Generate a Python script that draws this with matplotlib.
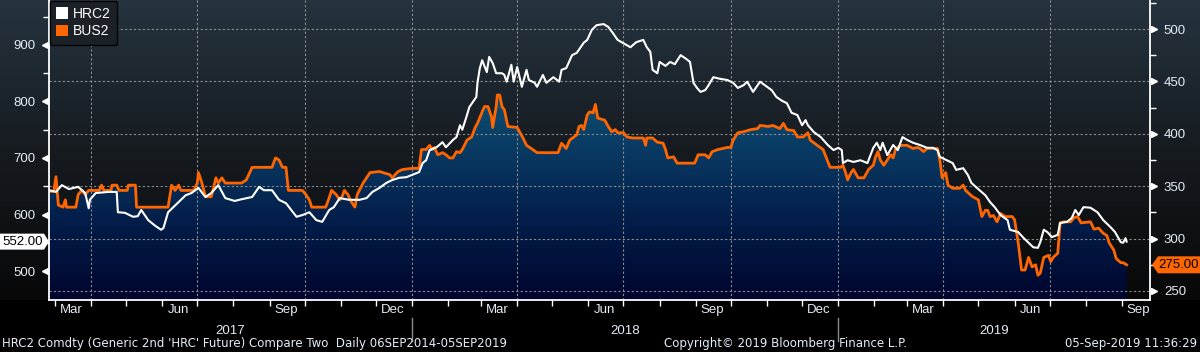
import numpy as np
import pandas as pd
import matplotlib
matplotlib.use("Agg")
import matplotlib.pyplot as plt
import matplotlib.dates as mdates
from matplotlib.colors import LinearSegmentedColormap
from matplotlib.patches import Patch, Polygon
from matplotlib.transforms import blended_transform_factory, ScaledTranslation

W, H = 1200, 352
plt.rcParams.update({"font.family": ["Liberation Sans", "DejaVu Sans"], "font.size": 9.5})
C_TXT, C_GRID, C_ORG = "#e4ecf6", "#8c8c8c", "#ff6600"

# HRC2 (left scale)
hrc = [("2017-02-24", 643), ("2017-03-02", 640), ("2017-03-07", 652), ("2017-03-13", 645), ("2017-03-21", 649),
       ("2017-03-27", 638), ("2017-03-30", 611), ("2017-03-31", 626), ("2017-04-05", 638), ("2017-04-16", 640),
       ("2017-04-23", 640), ("2017-04-24", 604), ("2017-04-30", 603), ("2017-05-07", 596), ("2017-05-11", 597),
       ("2017-05-14", 608), ("2017-05-20", 590), ("2017-05-26", 580), ("2017-05-31", 573), ("2017-06-02", 576),
       ("2017-06-06", 604), ("2017-06-15", 622), ("2017-06-21", 634), ("2017-06-26", 638), ("2017-07-02", 647),
       ("2017-07-08", 631), ("2017-07-13", 638), ("2017-07-19", 652), ("2017-07-25", 629), ("2017-08-02", 624),
       ("2017-08-08", 627), ("2017-08-17", 631), ("2017-08-23", 649), ("2017-08-27", 643), ("2017-09-03", 643),
       ("2017-09-09", 626), ("2017-09-15", 620), ("2017-09-24", 596), ("2017-09-29", 599), ("2017-10-05", 604),
       ("2017-10-11", 590), ("2017-10-16", 587), ("2017-10-22", 608), ("2017-10-26", 613), ("2017-10-31", 629),
       ("2017-11-08", 626), ("2017-11-17", 626), ("2017-11-23", 629), ("2017-11-28", 640), ("2017-12-04", 647),
       ("2017-12-10", 656), ("2017-12-15", 661), ("2017-12-21", 665), ("2017-12-27", 666), ("2018-01-01", 670),
       ("2018-01-07", 675), ("2018-01-10", 691), ("2018-01-13", 696), ("2018-01-16", 714), ("2018-01-22", 719),
       ("2018-01-27", 728), ("2018-01-30", 719), ("2018-02-05", 732), ("2018-02-08", 737), ("2018-02-11", 758),
       ("2018-02-13", 750), ("2018-02-17", 776), ("2018-02-19", 790), ("2018-02-22", 799), ("2018-02-25", 808),
       ("2018-02-26", 833), ("2018-02-28", 859), ("2018-03-02", 873), ("2018-03-06", 852), ("2018-03-08", 879),
       ("2018-03-11", 868), ("2018-03-14", 850), ("2018-03-19", 850), ("2018-03-21", 847), ("2018-03-23", 835),
       ("2018-03-27", 865), ("2018-03-29", 835), ("2018-04-01", 861), ("2018-04-05", 826), ("2018-04-09", 856),
       ("2018-04-11", 838), ("2018-04-16", 833), ("2018-04-18", 826), ("2018-04-23", 847), ("2018-04-26", 833),
       ("2018-05-02", 843), ("2018-05-07", 835), ("2018-05-09", 856), ("2018-05-13", 859), ("2018-05-18", 882),
       ("2018-05-22", 886), ("2018-05-25", 895), ("2018-05-28", 904), ("2018-05-31", 909), ("2018-06-04", 927),
       ("2018-06-08", 935), ("2018-06-14", 937), ("2018-06-18", 932), ("2018-06-22", 921), ("2018-06-26", 909),
       ("2018-07-02", 902), ("2018-07-07", 896), ("2018-07-12", 905), ("2018-07-18", 909), ("2018-07-21", 896),
       ("2018-07-24", 888), ("2018-07-26", 856), ("2018-07-30", 850), ("2018-08-01", 870), ("2018-08-06", 863),
       ("2018-08-10", 870), ("2018-08-14", 866), ("2018-08-19", 882), ("2018-08-24", 875), ("2018-08-27", 870),
       ("2018-08-30", 833), ("2018-09-02", 824), ("2018-09-05", 817), ("2018-09-09", 820), ("2018-09-12", 829),
       ("2018-09-16", 843), ("2018-09-22", 840), ("2018-09-28", 838), ("2018-10-03", 833), ("2018-10-07", 824),
       ("2018-10-12", 829), ("2018-10-15", 835), ("2018-10-20", 817), ("2018-10-26", 835), ("2018-11-01", 826),
       ("2018-11-05", 820), ("2018-11-09", 808), ("2018-11-14", 801), ("2018-11-18", 797), ("2018-11-22", 780),
       ("2018-11-27", 776), ("2018-12-01", 758), ("2018-12-04", 767), ("2018-12-06", 758), ("2018-12-11", 746),
       ("2018-12-17", 737), ("2018-12-23", 723), ("2018-12-28", 714), ("2019-01-01", 718), ("2019-01-04", 714),
       ("2019-01-05", 691), ("2019-01-09", 696), ("2019-01-14", 693), ("2019-01-20", 696), ("2019-01-26", 691),
       ("2019-01-31", 718), ("2019-02-03", 727), ("2019-02-06", 714), ("2019-02-08", 727), ("2019-02-12", 705),
       ("2019-02-17", 723), ("2019-02-21", 714), ("2019-02-25", 737), ("2019-03-01", 732), ("2019-03-06", 727),
       ("2019-03-12", 723), ("2019-03-18", 718), ("2019-03-23", 718), ("2019-03-27", 714), ("2019-03-29", 702),
       ("2019-04-04", 696), ("2019-04-09", 691), ("2019-04-12", 679), ("2019-04-18", 682), ("2019-04-22", 670),
       ("2019-04-25", 656), ("2019-05-02", 643), ("2019-05-07", 634), ("2019-05-11", 622), ("2019-05-15", 613),
       ("2019-05-20", 599), ("2019-05-26", 590), ("2019-05-28", 573), ("2019-06-04", 569), ("2019-06-09", 558),
       ("2019-06-13", 550), ("2019-06-17", 542), ("2019-06-21", 541), ("2019-06-23", 551), ("2019-06-26", 573),
       ("2019-06-29", 569), ("2019-07-03", 560), ("2019-07-08", 564), ("2019-07-10", 585), ("2019-07-16", 587),
       ("2019-07-20", 594), ("2019-07-23", 608), ("2019-07-26", 599), ("2019-07-30", 613), ("2019-08-05", 612),
       ("2019-08-11", 604), ("2019-08-16", 590), ("2019-08-22", 578), ("2019-08-26", 569), ("2019-08-31", 551),
       ("2019-09-02", 550), ("2019-09-04", 558), ("2019-09-05", 552)]

# BUS2 (right scale)
bus = [("2017-02-24", 345), ("2017-02-28", 345), ("2017-03-02", 359), ("2017-03-03", 345), ("2017-03-04", 332),
       ("2017-03-08", 330), ("2017-03-10", 337), ("2017-03-11", 330), ("2017-03-19", 330), ("2017-03-21", 342),
       ("2017-03-24", 346), ("2017-03-27", 342), ("2017-03-30", 346), ("2017-04-08", 346), ("2017-04-10", 351),
       ("2017-04-12", 346), ("2017-04-18", 346), ("2017-04-19", 351), ("2017-04-23", 351), ("2017-04-25", 346),
       ("2017-05-02", 346), ("2017-05-03", 351), ("2017-05-09", 351), ("2017-05-10", 330), ("2017-06-06", 330),
       ("2017-06-09", 351), ("2017-06-12", 346), ("2017-06-15", 351), ("2017-06-17", 346), ("2017-06-28", 346),
       ("2017-07-01", 353), ("2017-07-02", 363), ("2017-07-05", 353), ("2017-07-08", 340), ("2017-07-13", 340),
       ("2017-07-17", 358), ("2017-07-19", 353), ("2017-07-22", 358), ("2017-07-25", 353), ("2017-08-08", 353),
       ("2017-08-12", 356), ("2017-08-17", 368), ("2017-09-03", 368), ("2017-09-06", 377), ("2017-09-09", 375),
       ("2017-09-12", 368), ("2017-09-15", 368), ("2017-09-17", 346), ("2017-09-29", 346), ("2017-10-02", 342),
       ("2017-10-05", 337), ("2017-10-07", 330), ("2017-10-19", 330), ("2017-10-22", 339), ("2017-10-24", 346),
       ("2017-10-28", 342), ("2017-10-31", 337), ("2017-11-02", 340), ("2017-11-04", 346), ("2017-11-07", 342),
       ("2017-11-10", 335), ("2017-11-13", 330), ("2017-11-15", 342), ("2017-11-20", 353), ("2017-11-26", 363),
       ("2017-12-04", 364), ("2017-12-13", 361), ("2017-12-15", 358), ("2017-12-20", 364), ("2017-12-24", 366),
       ("2018-01-01", 367), ("2018-01-07", 367), ("2018-01-09", 385), ("2018-01-13", 385), ("2018-01-16", 389),
       ("2018-01-18", 385), ("2018-01-20", 387), ("2018-01-23", 380), ("2018-01-27", 382), ("2018-01-30", 380),
       ("2018-02-02", 377), ("2018-02-05", 377), ("2018-02-08", 383), ("2018-02-11", 382), ("2018-02-13", 385),
       ("2018-02-17", 394), ("2018-02-21", 397), ("2018-02-24", 406), ("2018-02-26", 410), ("2018-03-02", 421),
       ("2018-03-04", 426), ("2018-03-07", 426), ("2018-03-10", 416), ("2018-03-11", 406), ("2018-03-14", 426),
       ("2018-03-15", 437), ("2018-03-17", 437), ("2018-03-19", 426), ("2018-03-21", 423), ("2018-03-24", 407),
       ("2018-04-01", 406), ("2018-04-03", 402), ("2018-04-06", 396), ("2018-04-09", 389), ("2018-04-13", 386),
       ("2018-04-18", 382), ("2018-05-01", 382), ("2018-05-06", 382), ("2018-05-09", 391), ("2018-05-13", 386),
       ("2018-05-16", 394), ("2018-05-22", 399), ("2018-05-24", 407), ("2018-05-26", 408), ("2018-05-28", 404),
       ("2018-05-31", 418), ("2018-06-02", 421), ("2018-06-05", 420), ("2018-06-07", 428), ("2018-06-09", 415),
       ("2018-06-15", 413), ("2018-06-18", 407), ("2018-06-21", 402), ("2018-06-24", 404), ("2018-06-26", 401),
       ("2018-07-01", 401), ("2018-07-04", 397), ("2018-07-09", 396), ("2018-07-18", 396), ("2018-07-20", 389),
       ("2018-07-21", 396), ("2018-07-26", 396), ("2018-07-30", 392), ("2018-08-04", 391), ("2018-08-06", 385),
       ("2018-08-08", 377), ("2018-08-13", 378), ("2018-08-16", 372), ("2018-08-31", 372), ("2018-09-03", 380),
       ("2018-09-09", 380), ("2018-09-12", 377), ("2018-09-15", 383), ("2018-09-20", 385), ("2018-09-28", 387),
       ("2018-10-01", 387), ("2018-10-03", 394), ("2018-10-07", 401), ("2018-10-12", 402), ("2018-10-18", 404),
       ("2018-10-24", 405), ("2018-10-26", 408), ("2018-11-02", 407), ("2018-11-06", 408), ("2018-11-10", 406),
       ("2018-11-12", 405), ("2018-11-15", 410), ("2018-11-18", 404), ("2018-11-24", 403), ("2018-11-27", 397),
       ("2018-12-02", 397), ("2018-12-06", 401), ("2018-12-08", 394), ("2018-12-14", 389), ("2018-12-19", 385),
       ("2018-12-25", 368), ("2019-01-03", 368), ("2019-01-05", 370), ("2019-01-07", 364), ("2019-01-09", 356),
       ("2019-01-12", 363), ("2019-01-14", 366), ("2019-01-18", 358), ("2019-01-23", 358), ("2019-01-27", 366),
       ("2019-01-31", 370), ("2019-02-02", 378), ("2019-02-04", 383), ("2019-02-06", 375), ("2019-02-09", 370),
       ("2019-02-12", 375), ("2019-02-15", 380), ("2019-02-17", 377), ("2019-02-19", 385), ("2019-02-23", 389),
       ("2019-03-01", 389), ("2019-03-06", 386), ("2019-03-10", 387), ("2019-03-12", 386), ("2019-03-15", 383),
       ("2019-03-18", 386), ("2019-03-27", 386), ("2019-03-29", 375), ("2019-03-31", 358), ("2019-04-03", 363),
       ("2019-04-05", 351), ("2019-04-09", 348), ("2019-04-15", 348), ("2019-04-18", 351), ("2019-04-20", 346),
       ("2019-04-26", 340), ("2019-05-01", 337), ("2019-05-04", 321), ("2019-05-07", 327), ("2019-05-09", 327),
       ("2019-05-11", 321), ("2019-05-14", 322), ("2019-05-17", 316), ("2019-05-20", 324), ("2019-05-24", 321),
       ("2019-05-30", 321), ("2019-06-01", 318), ("2019-06-04", 297), ("2019-06-07", 270), ("2019-06-10", 270),
       ("2019-06-13", 282), ("2019-06-16", 273), ("2019-06-19", 275), ("2019-06-21", 265), ("2019-06-23", 267),
       ("2019-06-26", 282), ("2019-06-30", 284), ("2019-07-02", 278), ("2019-07-04", 282), ("2019-07-08", 286),
       ("2019-07-10", 315), ("2019-07-13", 316), ("2019-07-19", 316), ("2019-07-22", 320), ("2019-07-25", 321),
       ("2019-07-28", 315), ("2019-08-05", 316), ("2019-08-08", 309), ("2019-08-12", 310), ("2019-08-16", 305),
       ("2019-08-19", 303), ("2019-08-21", 296), ("2019-08-25", 289), ("2019-08-27", 281), ("2019-08-31", 277),
       ("2019-09-02", 277), ("2019-09-05", 275)]

left_ticks = [500, 600, 700, 800, 900]
left_minor = [550, 650, 750, 850, 950]
right_ticks = [250, 300, 350, 400, 450, 500]
right_minor = [275, 325, 375, 425, 475, 525]
month_names = {3: "Mar", 6: "Jun", 9: "Sep", 12: "Dec"}
years = [2017, 2018, 2019]
names = ["HRC2", "BUS2"]

hd = pd.to_datetime([d for d, _ in hrc]); hv = [v for _, v in hrc]
bd = pd.to_datetime([d for d, _ in bus]); bv = [v for _, v in bus]
X0, X1 = pd.Timestamp("2017-02-24"), pd.Timestamp("2019-09-25")
LLIM, RLIM = (448.7, 979.6), (241.4, 527.7)

fig = plt.figure(figsize=(W / 100, H / 100), dpi=100)
fig.patch.set_facecolor("black")

# background gradient (slate at top -> black at the axis line)
bg = fig.add_axes([0, 0, 1, 1]); bg.set_axis_off()
bg_cmap = LinearSegmentedColormap.from_list("bg", ["#25333f", "#161b20", "#080808"])
img = bg_cmap(np.clip(np.arange(H) / 300, 0, 1))[:, None, :3]
img[300:] = 0
bg.imshow(img, aspect="auto", extent=[0, 1, 0, 1], origin="upper")
bg.set_xlim(0, 1); bg.set_ylim(0, 1)

ax = fig.add_axes([49 / W, 52 / H, 1101 / W, 300 / H])   # BUS2, right scale
ax.patch.set_visible(False)
axl = ax.twinx()                                          # HRC2, left scale
ax.yaxis.tick_right(); axl.yaxis.tick_left()

# gradient area under BUS2
poly = ax.fill_between(bd, bv, RLIM[0], facecolor="none", edgecolor="none")
fill_cmap = LinearSegmentedColormap.from_list(
    "fill", ["#1a7596", "#0f5676", "#093a63", "#031c48", "#00062e"])
grad = fill_cmap(np.linspace(0, 1, 300))[:, None, :3]
xn0, xn1 = mdates.date2num(X0), mdates.date2num(X1)
im = ax.imshow(grad, aspect="auto", extent=[xn0, xn1, RLIM[0], RLIM[1]], origin="upper", zorder=1)
im.set_clip_path(poly.get_paths()[0], transform=ax.transData)

# grid
for v in right_ticks:
    ax.axhline(v, color=C_GRID, lw=0.8, ls=(0, (2, 2)), zorder=2)
for d in pd.date_range("2017-04-01", "2019-07-01", freq="QS"):
    ax.axvline(d, color=C_GRID, lw=0.8, ls=(0, (2, 2)), zorder=2)

ax.plot(bd, bv, color=C_ORG, lw=2.0, zorder=3)
axl.plot(hd, hv, color="white", lw=1.5, zorder=3)

ax.set_xlim(X0, X1); ax.set_ylim(*RLIM); axl.set_ylim(*LLIM)

for s in ["top", "left"]:
    ax.spines[s].set_visible(False)
for s in ["top", "right", "bottom"]:
    axl.spines[s].set_visible(False)
for sp in [ax.spines["right"], ax.spines["bottom"], axl.spines["left"]]:
    sp.set_color("white"); sp.set_linewidth(1.3)

# y ticks + triangle markers
ax.set_yticks(right_ticks); ax.set_yticks(right_minor, minor=True)
axl.set_yticks(left_ticks); axl.set_yticks(left_minor, minor=True)
for a in (ax, axl):
    a.tick_params(axis="y", which="major", length=0, pad=10, labelcolor=C_TXT, labelsize=9.5)
    a.tick_params(axis="y", which="minor", length=4, width=1, color="white", direction="out")
tr_r = blended_transform_factory(ax.transAxes, ax.transData) + ScaledTranslation(0.04, 0, fig.dpi_scale_trans)
ax.plot([1] * len(right_ticks), right_ticks, ls="none", marker=">", ms=5, color="white",
        transform=tr_r, clip_on=False)
tr_l = blended_transform_factory(axl.transAxes, axl.transData) + ScaledTranslation(-0.04, 0, fig.dpi_scale_trans)
axl.plot([0] * len(left_ticks), left_ticks, ls="none", marker="<", ms=5, color="white",
         transform=tr_l, clip_on=False)

# x ticks: month marks, labels mid-month
months = pd.date_range("2017-03-01", "2019-09-01", freq="MS")
ax.set_xticks(months); ax.set_xticklabels([""] * len(months))
mids = [m + pd.Timedelta(days=14) for m in months if m.month in month_names]
ax.set_xticks(mids, minor=True)
ax.set_xticklabels([month_names[m.month] for m in mids], minor=True)
ax.tick_params(axis="x", which="major", length=4, width=1, color="white", direction="out")
ax.tick_params(axis="x", which="minor", length=0, pad=3, labelcolor=C_TXT, labelsize=9.5)

# year labels and separators
trx = blended_transform_factory(ax.transData, ax.transAxes)
bounds = [X0] + [pd.Timestamp(f"{y}-01-01") for y in years[1:]] + [X1]
for i, y in enumerate(years):
    mid = bounds[i] + (bounds[i + 1] - bounds[i]) / 2
    ax.text(mid, -0.103, str(y), transform=trx, ha="center", va="center", color=C_TXT, fontsize=9.5)
for b in bounds[1:-1]:
    ax.plot([b, b], [-0.06, -0.135], transform=trx, color="#8a8a8a", lw=1, clip_on=False)

# legend
leg = axl.legend(handles=[Patch(facecolor="white", label=names[0]), Patch(facecolor=C_ORG, label=names[1])],
                 loc="upper left", bbox_to_anchor=(0.0, 1.0), frameon=True, fancybox=True,
                 facecolor="#1b2127", edgecolor="#050505", framealpha=1, labelcolor="white",
                 fontsize=10, handlelength=0.9, handleheight=0.9, handletextpad=0.35,
                 borderpad=0.45, labelspacing=0.25, borderaxespad=0.05)

# last value tags
def tag(a, xa, val, verts, tx, fc):
    anchor = ScaledTranslation(xa, val, blended_transform_factory(a.transAxes, a.transData))
    t = fig.dpi_scale_trans + anchor
    a.add_patch(Polygon(verts, closed=True, transform=t, facecolor=fc, edgecolor="none", clip_on=False, zorder=6))
    a.text(tx, 0, f"{val:.2f}", transform=t, ha="center", va="center", color="black", fontsize=9.5,
           zorder=7, clip_on=False)

tag(axl, 0, hv[-1], [(-0.49, -0.08), (-0.05, -0.08), (0, 0), (-0.05, 0.08), (-0.49, 0.08)], -0.265, "white")
tag(ax, 1, bv[-1], [(0.02, 0), (0.08, -0.085), (0.50, -0.085), (0.50, 0.085), (0.08, 0.085)], 0.29, C_ORG)

# footer
ff = dict(color=C_TXT, fontsize=8.5, family="DejaVu Sans", va="center")
fig.text(2 / W, 1 - 343 / H, "HRC2 Comdty (Generic 2nd 'HRC' Future) Compare Two  Daily 06SEP2014-05SEP2019",
         ha="left", **ff)
fig.text(786 / W, 1 - 343 / H, "Copyright\u00a9 2019 Bloomberg Finance L.P.", ha="center", **ff)
fig.text(1197 / W, 1 - 343 / H, "05-Sep-2019 11:36:29", ha="right", **ff)

fig.savefig("out.png", dpi=100, facecolor="black")
